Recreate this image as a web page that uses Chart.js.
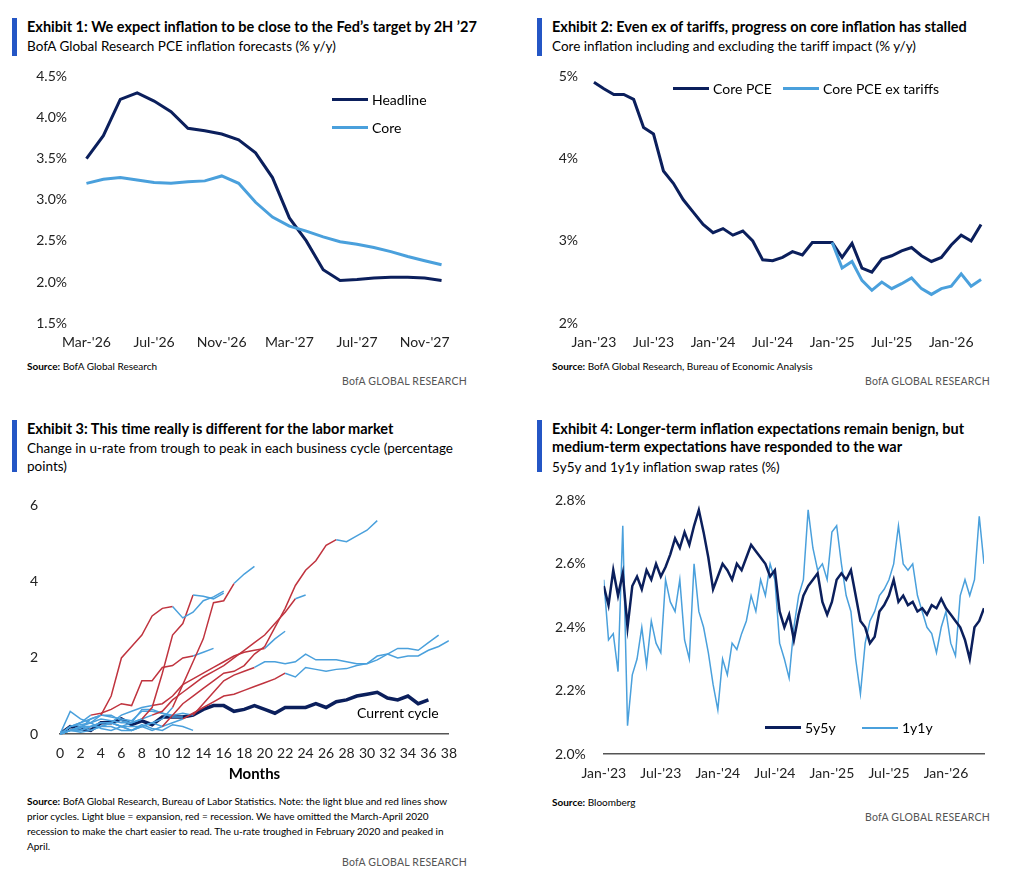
<!DOCTYPE html>
<html><head><meta charset="utf-8">
<script src="https://cdn.jsdelivr.net/npm/chart.js@4/dist/chart.umd.min.js"></script>
<style>
body{margin:0;background:#fff;font-family:Lato,"Open Sans",sans-serif;color:#000;width:1024px;height:875px;position:relative;overflow:hidden}
.a{position:absolute}
.bar{position:absolute;width:5px;background:#2456c5}
.t{font-weight:700;font-size:14.5px;line-height:18px}
.s{font-size:13.5px;line-height:18px}
.src{font-size:10px;line-height:15px}
.brand{font-size:10.5px;color:#555;letter-spacing:.2px}
.lg{position:absolute;font-size:14px;display:flex;align-items:center}
.lg i{display:inline-block;width:36px;margin-right:4px}
canvas{position:absolute}
</style></head><body>

<div class="bar" style="left:12px;top:18px;height:38px"></div>
<div class="a t" style="left:27px;top:18px">Exhibit 1: We expect inflation to be close to the Fed’s target by 2H ’27</div>
<div class="a s" style="left:27px;top:37px">BofA Global Research PCE inflation forecasts (% y/y)</div>
<div style="position:absolute;left:20px;top:65px;width:440px;height:289px"><canvas id="c1"></canvas></div>
<div class="lg" style="left:332px;top:91px"><i style="border-top:3px solid #0b1f5c"></i>Headline</div>
<div class="lg" style="left:332px;top:119px"><i style="border-top:3px solid #4aa0dc"></i>Core</div>
<div class="a src" style="left:27px;top:359px"><b>Source:</b> BofA Global Research</div>
<div class="a brand" style="right:557px;top:375px">BofA GLOBAL RESEARCH</div>

<div class="bar" style="left:537px;top:18px;height:38px"></div>
<div class="a t" style="left:552px;top:18px">Exhibit 2: Even ex of tariffs, progress on core inflation has stalled</div>
<div class="a s" style="left:552px;top:37px">Core inflation including and excluding the tariff impact (% y/y)</div>
<div style="position:absolute;left:545px;top:65px;width:445px;height:289px"><canvas id="c2"></canvas></div>
<div class="lg" style="left:673px;top:80px"><i style="border-top:3px solid #0b1f5c"></i>Core PCE</div>
<div class="lg" style="left:783px;top:80px"><i style="border-top:3px solid #4aa0dc"></i>Core PCE ex tariffs</div>
<div class="a src" style="left:552px;top:359px"><b>Source:</b> BofA Global Research, Bureau of Economic Analysis</div>
<div class="a brand" style="right:34px;top:375px">BofA GLOBAL RESEARCH</div>

<div class="bar" style="left:12px;top:420px;height:52px"></div>
<div class="a t" style="left:27px;top:420px">Exhibit 3: This time really is different for the labor market</div>
<div class="a s" style="left:27px;top:439px;width:440px">Change in u-rate from trough to peak in each business cycle (percentage points)</div>
<div style="position:absolute;left:16px;top:483px;width:444px;height:300px"><canvas id="c3"></canvas></div>
<div class="a" style="left:357px;top:704px;font-size:14px">Current cycle</div>
<div class="a src" style="left:27px;top:794px;width:440px"><b>Source:</b> BofA Global Research, Bureau of Labor Statistics. Note: the light blue and red lines show prior cycles. Light blue = expansion, red = recession. We have omitted the March-April 2020 recession to make the chart easier to read. The u-rate troughed in February 2020 and peaked in April.</div>
<div class="a brand" style="right:557px;top:856px">BofA GLOBAL RESEARCH</div>

<div class="bar" style="left:537px;top:420px;height:52px"></div>
<div class="a t" style="left:552px;top:420px;width:440px">Exhibit 4: Longer-term inflation expectations remain benign, but medium-term expectations have responded to the war</div>
<div class="a s" style="left:552px;top:458px">5y5y and 1y1y inflation swap rates (%)</div>
<div style="position:absolute;left:545px;top:482px;width:445px;height:303px"><canvas id="c4"></canvas></div>
<div class="lg" style="left:765px;top:719px"><i style="border-top:3px solid #0b1f5c"></i>5y5y</div>
<div class="lg" style="left:862px;top:719px"><i style="border-top:2px solid #4aa0dc"></i>1y1y</div>
<div class="a src" style="left:552px;top:795px"><b>Source:</b> Bloomberg</div>
<div class="a brand" style="right:34px;top:811px">BofA GLOBAL RESEARCH</div>

<script>
const NAVY = '#0b1f5c', LBLUE = '#4aa0dc', RED = '#c0343f';

// Exhibit 1
const ex1Months = ["Mar-'26","Apr-'26","May-'26","Jun-'26","Jul-'26","Aug-'26","Sep-'26","Oct-'26","Nov-'26","Dec-'26",
  "Jan-'27","Feb-'27","Mar-'27","Apr-'27","May-'27","Jun-'27","Jul-'27","Aug-'27","Sep-'27","Oct-'27","Nov-'27","Dec-'27"];
const ex1Headline = [3.5,3.78,4.22,4.3,4.2,4.07,3.87,3.84,3.8,3.73,3.57,3.27,2.78,2.5,2.15,2.02,2.03,2.05,2.06,2.06,2.05,2.02];
const ex1Core = [3.2,3.25,3.27,3.24,3.21,3.2,3.22,3.23,3.29,3.2,2.97,2.79,2.68,2.62,2.55,2.49,2.46,2.42,2.37,2.31,2.26,2.21];

// Exhibit 2 (Jan-'23 .. Apr-'26)
const ex2Months = [];
['23','24','25','26'].forEach(y => ['Jan','Feb','Mar','Apr','May','Jun','Jul','Aug','Sep','Oct','Nov','Dec']
  .forEach(m => ex2Months.push(m + "-'" + y)));
ex2Months.length = 40;
const ex2Core = [4.93,4.85,4.78,4.78,4.72,4.38,4.3,3.85,3.7,3.5,3.35,3.2,3.1,3.15,3.07,3.12,3.0,2.77,2.76,2.8,
  2.87,2.83,2.98,2.98,2.98,2.8,2.97,2.67,2.62,2.78,2.82,2.88,2.92,2.82,2.75,2.8,2.95,3.07,3.0,3.2];
const ex2ExTariffs = [null,null,null,null,null,null,null,null,null,null,null,null,null,null,null,null,null,null,null,null,
  null,null,null,null,2.98,2.67,2.75,2.52,2.4,2.5,2.42,2.48,2.55,2.42,2.35,2.42,2.45,2.6,2.45,2.53];

// Exhibit 3: prior cycles (month 0..n) with recession span [start,end] in months
const cycA = [0,0.2,0.3,0.4,0.5,1.0,2.0,2.3,2.6,3.1,3.3,3.35,3.05,3.2,3.5,3.6,3.75];
const cycB = [0,0.1,0.2,0.2,0.3,0.3,0.2,0.3,0.4,0.7,1.6,2.6,2.9,3.65,3.62,3.55,3.7];
const cycC = [0,0.1,0.1,0.2,0.2,0.3,0.2,0.1,0.2,0.3,0.4,0.7,1.3,1.9,2.5,3.45,3.5,3.95,4.2,4.4];
const cycD = [0,0.1,0.2,0.1,0.2,0.3,0.2,0.2,0.2,0.1,0.2,0.5,0.8,1.0,1.2,1.4,1.6,1.65,1.8,2.1,2.3,2.8,3.3,3.9,4.3,4.55,4.95,5.1,5.05,5.2,5.35,5.6];
const cycE = [0,0.1,0.2,0.3,0.4,0.35,0.3,0.3,0.4,0.5,0.6,0.9,1.1,1.3,1.5,1.65,1.8,2.0,2.2,2.4,2.6,2.9,3.2,3.55,3.65];
const cycF = [0,0.1,0.1,0.2,0.3,0.3,0.5,0.6,0.7,0.75,0.8,1.0,1.3,1.45,1.6,1.75,1.9,2.05,2.15,2.2,2.25,2.5,2.7];
const cycG = [0,0.2,0.3,0.5,0.55,0.65,0.8,0.75,1.4,1.4,1.75,1.8,2.0,2.05,2.15,2.25];
const cycH = [0,0.1,0.05,0.1,0.2,0.2,0.1,0.1,0.2,0.3,0.2,0.3,0.4,0.55,0.7,0.85,1.0,1.05,1.15,1.25,1.35,1.45,1.6,1.5,1.75,1.7,1.65,1.7,1.72,1.8,1.85,2.05,2.1,2.0,2.05,2.05,2.2,2.3,2.45];
const cycI = [0,0.6,0.4,0.3,0.5,0.45,0.4,0.35,0.6,0.6,0.55,0.5,0.55,0.5,0.8,1.1,1.4,1.55,1.65,1.75,1.9,1.9,1.85,1.9,2.1,1.95,1.95,1.95,1.9,1.85,1.85,1.95,2.1,2.25,2.25,2.2,2.4,2.6];
const cycJ = [0,0.2,0.25,0.3,0.15,0.1,0.2,0.1,0.25,0.15,0.1,0.25,0.2,0.1];
const cycK = [0,0.1,0.15,0.4,0.5,0.5,0.35,0.3,0.65,0.65,0.55,0.45,0.45];
const recessions = { A:[4,11], B:[8,13], C:[11,17], D:[10,27], E:[9,23], F:[9,20], G:[3,13], H:[12,22], I:[13,19], J:null, K:null };
const currentCycle = [0,0.2,0.15,0.1,0.3,0.3,0.4,0.25,0.35,0.25,0.45,0.45,0.45,0.5,0.65,0.75,0.75,0.6,0.65,0.75,0.65,0.55,
  0.7,0.7,0.7,0.8,0.7,0.85,0.9,1.0,1.05,1.1,0.95,0.9,1.0,0.8,0.9];

// Exhibit 4: half-monthly readings from Jan-'23
const ex4Ticks = ["Jan-'23","Jul-'23","Jan-'24","Jul-'24","Jan-'25","Jul-'25","Jan-'26"];
const swap5y5y = [2.53,2.47,2.58,2.5,2.57,2.40,2.53,2.56,2.52,2.58,2.55,2.60,2.56,2.59,2.63,2.68,2.65,2.70,2.66,2.72,
  2.77,2.70,2.62,2.52,2.56,2.60,2.58,2.55,2.60,2.58,2.62,2.66,2.64,2.62,2.60,2.56,2.58,2.45,2.40,2.44,
  2.36,2.44,2.50,2.53,2.55,2.57,2.48,2.44,2.48,2.55,2.57,2.55,2.58,2.50,2.42,2.40,2.35,2.37,2.45,2.47,
  2.50,2.55,2.48,2.50,2.47,2.48,2.45,2.46,2.44,2.47,2.46,2.49,2.46,2.44,2.42,2.40,2.36,2.30,2.40,2.42,2.46];
const swap1y1y = [2.55,2.36,2.38,2.26,2.72,2.09,2.25,2.30,2.40,2.28,2.42,2.35,2.32,2.55,2.48,2.45,2.55,2.36,2.30,2.60,
  2.45,2.40,2.32,2.22,2.14,2.30,2.25,2.35,2.33,2.38,2.42,2.50,2.45,2.55,2.50,2.60,2.55,2.35,2.30,2.24,
  2.40,2.50,2.55,2.77,2.65,2.58,2.60,2.55,2.70,2.72,2.60,2.50,2.45,2.30,2.19,2.35,2.42,2.45,2.50,2.52,
  2.55,2.60,2.72,2.60,2.58,2.60,2.50,2.45,2.40,2.38,2.32,2.40,2.45,2.35,2.31,2.50,2.55,2.50,2.55,2.75,2.60];

const tickFont = { family: 'Lato', size: 14 };
const tickColor = '#222';
Chart.defaults.animation = false;
Chart.defaults.font.family = 'Lato';

const baseOpts = {
  responsive: true, maintainAspectRatio: false,
  plugins: { legend: { display: false }, tooltip: { enabled: false } },
  elements: { point: { radius: 0 }, line: { tension: 0 } }
};

new Chart(document.getElementById('c1'), {
  type: 'line',
  data: {
    labels: ex1Months,
    datasets: [
      { data: ex1Core, borderColor: LBLUE, borderWidth: 3 },
      { data: ex1Headline, borderColor: NAVY, borderWidth: 3 }
    ]
  },
  options: { ...baseOpts,
    layout: { padding: { right: 10, top: 4 } },
    scales: {
      x: { offset: true, grid: { display: false }, border: { display: false },
        ticks: { color: tickColor, font: tickFont, autoSkip: false, maxRotation: 0,
          callback: (v, i) => i % 4 === 0 ? ex1Months[i] : null } },
      y: { min: 1.5, max: 4.5, grid: { display: false }, border: { display: false },
        afterFit: ax => { ax.width = 58; },
        ticks: { stepSize: 0.5, color: tickColor, font: tickFont, callback: v => v.toFixed(1) + '%' } }
    }
  }
});

new Chart(document.getElementById('c2'), {
  type: 'line',
  data: {
    labels: ex2Months,
    datasets: [
      { data: ex2ExTariffs, borderColor: LBLUE, borderWidth: 3 },
      { data: ex2Core, borderColor: NAVY, borderWidth: 3 }
    ]
  },
  options: { ...baseOpts,
    layout: { padding: { right: 4, top: 4 } },
    scales: {
      x: { offset: true, grid: { display: false }, border: { display: false },
        ticks: { color: tickColor, font: tickFont, autoSkip: false, maxRotation: 0,
          callback: (v, i) => i % 6 === 0 ? ex2Months[i] : null } },
      y: { min: 2, max: 5, grid: { display: false }, border: { display: false },
        afterFit: ax => { ax.width = 44; },
        ticks: { stepSize: 1, color: tickColor, font: tickFont, callback: v => v + '%' } }
    }
  }
});

const cycles = { A: cycA, B: cycB, C: cycC, D: cycD, E: cycE, F: cycF, G: cycG, H: cycH, I: cycI, J: cycJ, K: cycK };
const cycleSets = Object.keys(cycles).map(k => {
  const rec = recessions[k];
  return {
    data: cycles[k].map((v, i) => ({ x: i, y: v })),
    borderColor: LBLUE, borderWidth: 1.5,
    segment: { borderColor: c => rec && c.p0.parsed.x >= rec[0] && c.p1.parsed.x <= rec[1] ? RED : LBLUE }
  };
});
new Chart(document.getElementById('c3'), {
  type: 'line',
  data: { datasets: [...cycleSets,
    { data: currentCycle.map((v, i) => ({ x: i, y: v })), borderColor: NAVY, borderWidth: 3.5 }] },
  options: { ...baseOpts,
    layout: { padding: { right: 8, top: 10 } },
    scales: {
      x: { type: 'linear', min: 0, max: 38, grid: { display: false },
        border: { color: '#555', width: 1.5 },
        ticks: { stepSize: 2, color: tickColor, font: tickFont, maxRotation: 0 },
        title: { display: true, text: 'Months', color: '#000', font: { family: 'Lato', size: 15, weight: 'bold' }, padding: 0 } },
      y: { min: 0, max: 6, grid: { display: false }, border: { display: false },
        afterFit: ax => { ax.width = 44; },
        ticks: { stepSize: 2, color: tickColor, font: tickFont, padding: 14 } }
    }
  }
});

new Chart(document.getElementById('c4'), {
  type: 'line',
  data: { datasets: [
    { data: swap5y5y.map((v, i) => ({ x: i / 2, y: v })), borderColor: NAVY, borderWidth: 2.5 },
    { data: swap1y1y.map((v, i) => ({ x: i / 2, y: v })), borderColor: LBLUE, borderWidth: 1.5 }
  ] },
  options: { ...baseOpts,
    layout: { padding: { right: 6, top: 8 } },
    scales: {
      x: { type: 'linear', min: 0, max: 40, grid: { display: false },
        border: { color: '#555', width: 1.5 },
        afterBuildTicks: ax => { ax.ticks = ex4Ticks.map((t, i) => ({ value: i * 6 })); },
        ticks: { color: tickColor, font: tickFont, maxRotation: 0, callback: v => ex4Ticks[v / 6] } },
      y: { min: 2.0, max: 2.8, grid: { display: false }, border: { display: false },
        ticks: { stepSize: 0.2, color: tickColor, font: tickFont, padding: 10, callback: v => v.toFixed(1) + '%' } }
    }
  }
});
</script>
</body></html>
